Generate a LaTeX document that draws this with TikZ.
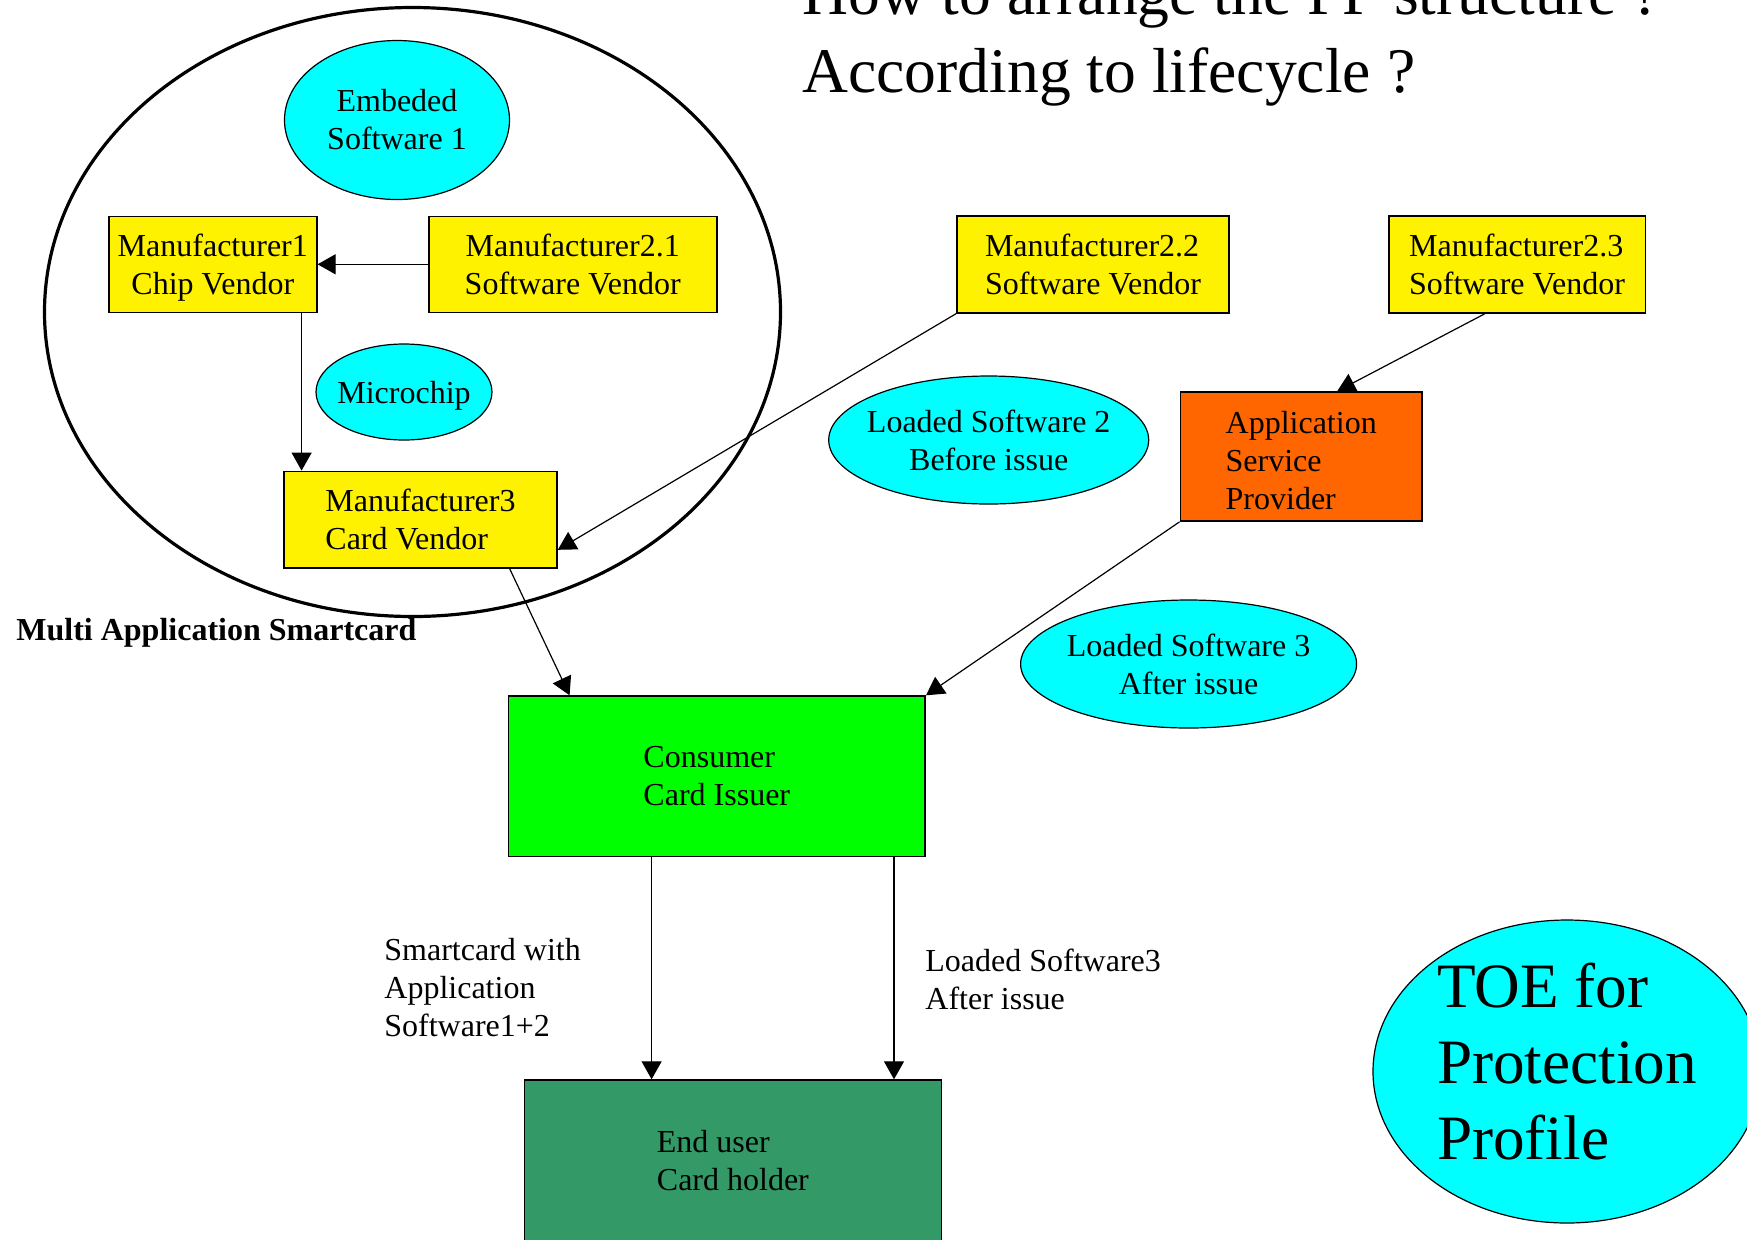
\documentclass[tikz,border=0pt]{standalone}
\usepackage{fontspec}
\setmainfont{Liberation Serif}
\usetikzlibrary{shapes.geometric,arrows.meta}
\definecolor{softcol}{RGB}{0,255,255}
\definecolor{aspcol}{RGB}{255,102,0}
\definecolor{usercol}{RGB}{51,153,102}

\begin{document}
\begin{tikzpicture}
  [x=0.5pt,y=-0.5pt,
   every node/.style={font=\fontsize{16pt}{19pt}\selectfont,inner sep=0pt},
   box/.style={rectangle,draw,line width=0.8pt},
   vendor/.style={box,fill=yellow},
   soft/.style={ellipse,draw,line width=0.6pt,fill=softcol,inner sep=-10pt},
   arr/.style={-{Triangle[length=9pt,width=10pt]},line width=0.6pt}]
  \useasboundingbox (0,0) rectangle (1747,1239);
  \clip (0,0) rectangle (1747,1239);

  % the card and what is inside it
  \node[ellipse,draw,line width=1.6pt,minimum width=368pt,minimum height=304.5pt] (card) at (412.5,312) {};
  \node[anchor=base west,font=\fontsize{16pt}{19pt}\selectfont\bfseries] (cardname) at (16,640) {Multi Application Smartcard};
  \node[soft,align=center,minimum width=112.5pt,minimum height=79.5pt] (emb) at (397,120) {Embeded\\Software 1};
  \node[soft,text height=15pt,minimum width=88pt,minimum height=48pt] (chip) at (404,392) {Microchip};
  \node[vendor,align=center,text height=33.2pt,minimum width=104pt,minimum height=48pt] (m1) at (212.8,264.3) {Manufacturer1\\Chip Vendor};
  \node[vendor,align=center,minimum width=144pt,minimum height=48pt] (m21) at (572.7,264.3) {Manufacturer2.1\\Software Vendor};
  \node[vendor,align=left,minimum width=136.5pt,minimum height=48.4pt] (m3) at (420.5,519.8) {Manufacturer3\\Card Vendor};

  % outside the card
  \node[vendor,align=left,minimum width=136pt,minimum height=48.5pt] (m22) at (1093,264.3) {Manufacturer2.2\\Software Vendor};
  \node[vendor,align=left,minimum width=128.3pt,minimum height=48.5pt] (m23) at (1517.1,264.3) {Manufacturer2.3\\Software Vendor};
  \node[soft,align=center,minimum width=160pt,minimum height=64pt] (ls2) at (988.7,440) {Loaded Software 2\\Before issue};
  \node[box,fill=aspcol,align=left,text height=53.4pt,minimum width=120.8pt,minimum height=64.5pt] (asp) at (1301.2,456.5) {Application\\Service\\Provider};
  \node[soft,align=center,minimum width=168pt,minimum height=64pt] (ls3) at (1188.6,664) {Loaded Software 3\\After issue};
  \node[box,fill=green,align=left,minimum width=208.4pt,minimum height=80.2pt] (cons) at (716.8,776.3) {Consumer\\Card Issuer};
  \node[box,fill=usercol,align=left,minimum width=208.4pt,minimum height=80.2pt] (endu) at (732.9,1160.3) {End user\\Card holder};
  \node[align=left] (lbl12) at (384,988) [anchor=west] {Smartcard with\\Application\\Software1+2};
  \node[align=left] (lbl3) at (925,979) [anchor=west] {Loaded Software3\\After issue};

  \node[soft,align=left,text depth=10pt,minimum width=194pt,minimum height=151.5pt,font=\fontsize{31.6pt}{38pt}\selectfont] (toe) at (1567,1071.5) {TOE for\\Protection\\Profile};
  \node[anchor=base west,align=left,font=\fontsize{31.8pt}{39pt}\selectfont] (title) at (802,92) {How to arrange the PP structure ?\\According to lifecycle ?};

  \draw[arr] (m21.west) -- (m1.east);
  \draw[arr] ([xshift=-8pt]m1.south east) -- ([xshift=-8pt]m1.south east |- m3.north);
  \draw[arr] (m22.south west) -- ([yshift=-15pt]m3.east);
  \draw[arr] ([xshift=-24pt]m3.south east) -- ([xshift=31pt]cons.north west);
  \draw[arr] ([xshift=-16pt]m23.south) -- ([xshift=18pt]asp.north);
  \draw[arr] (asp.south west) -- (cons.north east);
  \draw[arr] ([xshift=72pt]cons.south west) -- ([xshift=72pt]cons.south west |- endu.north);
  \draw[arr] ([xshift=-16pt]cons.south east) -- ([xshift=-16pt]cons.south east |- endu.north);
\end{tikzpicture}
\end{document}
